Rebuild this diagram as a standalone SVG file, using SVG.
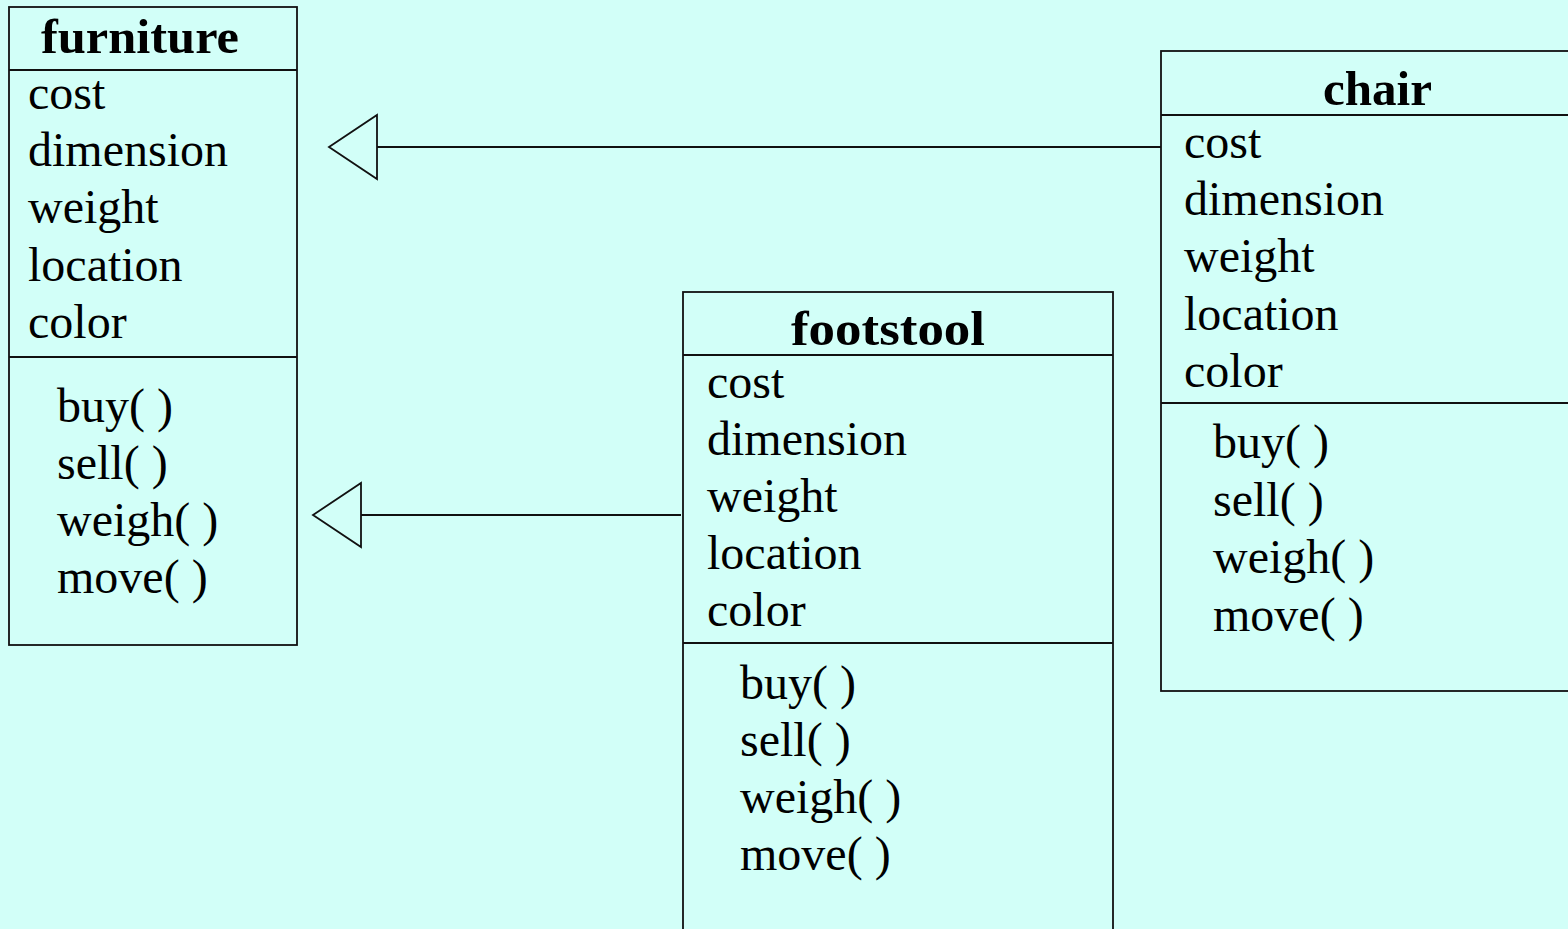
<svg xmlns="http://www.w3.org/2000/svg" width="1568" height="929" viewBox="0 0 1568 929">
  <style>
    .box { fill: none; stroke: #111; stroke-width: 1.8; }
    .sep { stroke: #111; stroke-width: 1.8; }
    .title { font-family: "Liberation Serif", "Times New Roman", serif; font-weight: bold; font-size: 48px; fill: #000; }
    .item { font-family: "Liberation Serif", "Times New Roman", serif; font-size: 48px; fill: #000; }
    .edge { stroke: #111; stroke-width: 1.8; fill: none; }
    .head { stroke: #111; stroke-width: 1.8; fill: #D2FFF8; stroke-linejoin: miter; }
  </style>
  <rect x="0" y="0" width="1568" height="929" fill="#D2FFF8"/>

  <!-- generalisation connectors -->
  <g id="connectors">
    <line class="edge" x1="377" y1="147" x2="1161" y2="147"/>
    <polygon class="head" points="329,147 377,115 377,179"/>
    <line class="edge" x1="361" y1="515" x2="681" y2="515"/>
    <polygon class="head" points="313,515 361,483 361,547"/>
  </g>

  <!-- furniture class -->
  <g id="furniture">
    <rect class="box" x="9" y="7" width="288" height="638"/>
    <line class="sep" x1="9" y1="70" x2="297" y2="70"/>
    <line class="sep" x1="9" y1="357" x2="297" y2="357"/>
    <text class="title" x="41" y="53" textLength="198" lengthAdjust="spacingAndGlyphs">furniture</text>
    <text class="item" x="28" y="109">cost</text>
    <text class="item" x="28" y="166">dimension</text>
    <text class="item" x="28" y="223">weight</text>
    <text class="item" x="28" y="281">location</text>
    <text class="item" x="28" y="338">color</text>
    <text class="item" x="57" y="422">buy( )</text>
    <text class="item" x="57" y="479">sell( )</text>
    <text class="item" x="57" y="536">weigh( )</text>
    <text class="item" x="57" y="593">move( )</text>
  </g>

  <!-- footstool class -->
  <g id="footstool">
    <rect class="box" x="683" y="292" width="430" height="660"/>
    <line class="sep" x1="683" y1="355" x2="1113" y2="355"/>
    <line class="sep" x1="683" y1="643" x2="1113" y2="643"/>
    <text class="title" x="791" y="345" textLength="194" lengthAdjust="spacingAndGlyphs">footstool</text>
    <text class="item" x="707" y="398">cost</text>
    <text class="item" x="707" y="455">dimension</text>
    <text class="item" x="707" y="512">weight</text>
    <text class="item" x="707" y="569">location</text>
    <text class="item" x="707" y="626">color</text>
    <text class="item" x="740" y="699">buy( )</text>
    <text class="item" x="740" y="756">sell( )</text>
    <text class="item" x="740" y="813">weigh( )</text>
    <text class="item" x="740" y="870">move( )</text>
  </g>

  <!-- chair class -->
  <g id="chair">
    <rect class="box" x="1161" y="51" width="460" height="640"/>
    <line class="sep" x1="1161" y1="115" x2="1568" y2="115"/>
    <line class="sep" x1="1161" y1="403" x2="1568" y2="403"/>
    <text class="title" x="1323" y="105" textLength="109" lengthAdjust="spacingAndGlyphs">chair</text>
    <text class="item" x="1184" y="158">cost</text>
    <text class="item" x="1184" y="215">dimension</text>
    <text class="item" x="1184" y="272">weight</text>
    <text class="item" x="1184" y="330">location</text>
    <text class="item" x="1184" y="387">color</text>
    <text class="item" x="1213" y="458">buy( )</text>
    <text class="item" x="1213" y="516">sell( )</text>
    <text class="item" x="1213" y="573">weigh( )</text>
    <text class="item" x="1213" y="631">move( )</text>
  </g>
</svg>
